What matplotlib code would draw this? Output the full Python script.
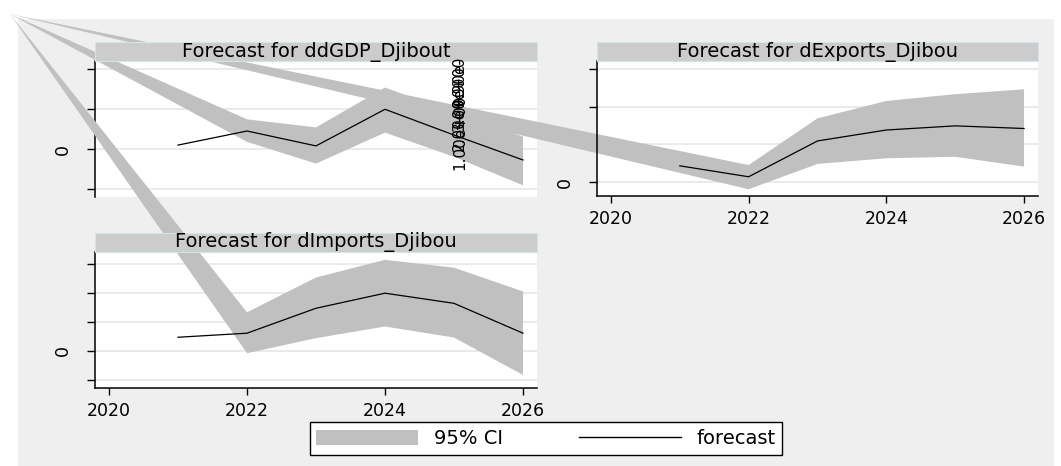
import matplotlib
matplotlib.use('Agg')
import matplotlib.pyplot as plt
from matplotlib.patches import Rectangle, Patch
from matplotlib.lines import Line2D

# forecast years and values
years = [2021, 2022, 2023, 2024, 2025, 2026]
ci_years = [2022, 2023, 2024, 2025, 2026]

gdp_fc = [0.10, 0.45, 0.08, 0.99, 0.35, -0.27]
gdp_lo = [0.18, -0.36, 0.41, -0.19, -0.90]
gdp_hi = [0.74, 0.54, 1.53, 0.90, 0.31]

exp_fc = [0.43, 0.14, 1.09, 1.38, 1.49, 1.42]
exp_lo = [-0.19, 0.48, 0.63, 0.67, 0.41]
exp_hi = [0.45, 1.69, 2.15, 2.33, 2.46]

imp_fc = [0.47, 0.61, 1.47, 1.99, 1.64, 0.61]
imp_lo = [-0.08, 0.44, 0.84, 0.46, -0.83]
imp_hi = [1.33, 2.53, 3.14, 2.87, 2.05]

titles = ['Forecast for ddGDP_Djibout', 'Forecast for dExports_Djibou',
          'Forecast for dImports_Djibou']
xticks = [2020, 2022, 2024, 2026]
junk_labels = ['1.00e+00', '2.00e+00', '3.00e+00', '9.90e-']

W, H = 1061, 466
band_col = '#c0c0c0'
fig = plt.figure(figsize=(W / 100, H / 100), dpi=100)
fig.patch.set_facecolor('white')

# grey graph region
fig.add_artist(Rectangle((18 / W, 0), (1054 - 18) / W, (H - 19) / H,
                         transform=fig.transFigure, facecolor='#efefef',
                         edgecolor='none', zorder=-10))


def px_axes(left, right, top, bottom):
    return fig.add_axes([left / W, 1 - bottom / H, (right - left) / W, (bottom - top) / H])


panels = [
    (px_axes(95, 537, 61, 197), gdp_fc, gdp_lo, gdp_hi, (-1.19, 2.19), [-1, 0, 1, 2], False),
    (px_axes(597, 1038, 61, 196), exp_fc, exp_lo, exp_hi, (-0.37, 3.21), [0, 1, 2, 3], True),
    (px_axes(95, 537, 252, 388), imp_fc, imp_lo, imp_hi, (-1.28, 3.41), [-1, 0, 1, 2, 3], True),
]

# the odd corner every CI polygon got pulled to
corner_fig = (10 / W, 1 - 14 / H)

for i, (ax, fc, lo, hi, ylim, yt, show_x) in enumerate(panels):
    ax.set_facecolor('white')
    ax.set_xlim(2019.797, 2026.203)
    ax.set_ylim(*ylim)
    ax.set_yticks(yt)
    ax.set_yticklabels(['0' if t == 0 else '' for t in yt], rotation=90, va='center', fontsize=12.5)
    ax.tick_params(axis='y', length=6, width=1, pad=11)
    ax.yaxis.grid(True, color='#e6e6e6', lw=1.2)
    ax.set_axisbelow(True)
    for s in ['top', 'right']:
        ax.spines[s].set_visible(False)
    ax.spines['left'].set_linewidth(1.1)
    if show_x:
        ax.set_xticks(xticks)
        ax.set_xticklabels([str(x) for x in xticks], fontsize=12.5)
        ax.tick_params(axis='x', length=5, width=1, pad=5)
        ax.spines['bottom'].set_linewidth(1.1)
    else:
        ax.spines['bottom'].set_visible(False)
        ax.set_xticks([])

    cx, cy = ax.transData.inverted().transform(fig.transFigure.transform(corner_fig))
    xs = [cx] + ci_years + ci_years[::-1]
    ys = [cy] + hi + lo[::-1]
    ax.fill(xs, ys, color=band_col, lw=0, clip_on=False, zorder=2)
    ax.plot(years, fc, color='black', lw=0.9, zorder=3)

    # title bar on top of everything
    pos = ax.get_position()
    fig.add_artist(Rectangle((pos.x0, pos.y1), pos.width, 19 / H, transform=fig.transFigure,
                             facecolor='#cccccc', edgecolor='#d5e3ea', lw=0.8, zorder=5))
    fig.text(pos.x0 + pos.width / 2, pos.y1 + 9.5 / H, titles[i], ha='center', va='center',
             fontsize=14, zorder=6)

# overlapping rotated labels in the first panel (as in the original)
gdp_ax = panels[0][0]
for lab, yb in zip(junk_labels, [-0.52, -0.05, 0.45, 1.05]):
    fig.text(2025.08, yb, lab, rotation=90, ha='center', va='bottom', fontsize=11,
             transform=gdp_ax.transData, zorder=7)

handles = [Patch(facecolor=band_col, edgecolor='none'), Line2D([], [], color='black', lw=1)]
leg = fig.legend(handles, ['95% CI', 'forecast'], loc='center',
                 bbox_to_anchor=(546 / W, 1 - 438.5 / H), ncol=2, fontsize=14,
                 frameon=True, fancybox=False, edgecolor='black', framealpha=1,
                 handlelength=5.25, handleheight=0.85, handletextpad=0.8,
                 columnspacing=3.9, borderpad=0.35)
leg.get_frame().set_linewidth(1)

fig.savefig('out.png', dpi=100)
